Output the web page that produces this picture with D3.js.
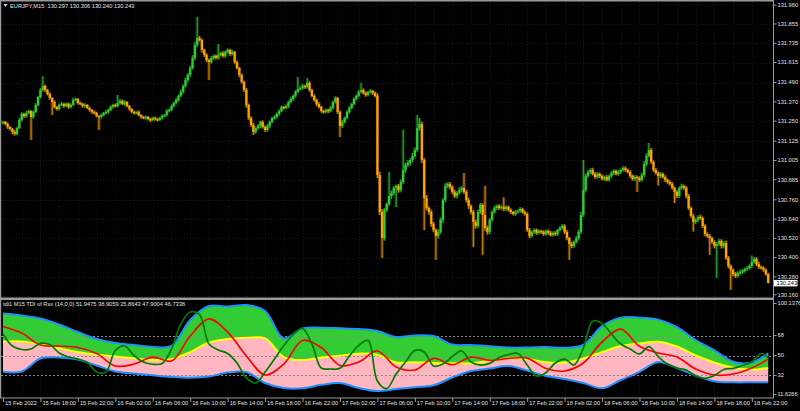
<!DOCTYPE html>
<html><head><meta charset="utf-8">
<script src="https://cdn.jsdelivr.net/npm/d3@7/dist/d3.min.js"></script>
<style>html,body{margin:0;padding:0;background:#000;overflow:hidden}</style>
</head><body>
<svg id="c" width="800" height="411"></svg>
<script>
// ---------------- DATA ----------------
const symbolTitle = "EURJPY,M15  130.297 130.306 130.240 130.243";
const indicatorTitle = "tdi1 M15 TDI of Rsx (14,0,0) 51.9475 38.9059 25.8643 47.9004 46.7338";
const priceBase = 130;          // prices = priceBase + points/1000
const firstOpen = 1240;
// M15 closes, in points above 130.000
const closes = [
1245,1232,1214,1201,1182,1170,1207,1257, 1295,1282,1301,1313,1276,1307,1351,1400,
1444,1469,1444,1419,1394,1369,1338,1326, 1351,1357,1344,1357,1338,1351,1382,1388,
1363,1357,1344,1351,1332,1320,1307,1301, 1282,1276,1288,1301,1307,1320,1338,1351,
1344,1363,1376,1357,1369,1344,1326,1307, 1301,1307,1288,1276,1270,1276,1263,1257,
1270,1263,1257,1270,1282,1288,1313,1320, 1344,1363,1382,1407,1432,1469,1506,1537,
1581,1643,1724,1768,1755,1693,1662,1631, 1618,1643,1656,1643,1662,1674,1656,1681,
1693,1668,1681,1618,1581,1537,1494,1444, 1351,1270,1226,1182,1207,1220,1245,1214,
1195,1220,1245,1270,1276,1295,1313,1338, 1332,1344,1369,1388,1407,1432,1450,1456,
1469,1463,1488,1444,1407,1382,1357,1338, 1313,1307,1320,1313,1332,1369,1394,1307,
1220,1245,1270,1307,1332,1357,1388,1407, 1432,1444,1425,1413,1432,1438,1425,1407,
915,684,522,697,734,784,803,834, 846,821,871,946,977,989,1008,1033,
1070,1207,1232,1008,772,709,684,610, 572,535,560,635,759,846,859,840,
809,784,803,821,834,809,759,722, 684,622,597,684,728,666,585,560,
635,684,709,722,709,716,703,716, 697,684,672,684,691,703,684,672,
572,535,560,572,554,566,560,547, 566,554,541,554,547,572,585,597,
560,522,485,473,498,522,560,666, 821,908,933,946,921,902,921,908,
890,902,884,908,927,940,921,933, 946,958,946,933,908,890,902,896,
884,915,983,1033,1070,996,946,927, 908,921,902,884,871,859,834,809,
784,834,846,834,784,709,659,622, 635,653,647,597,547,535,522,498,
473,485,504,473,491,398,348,324, 298,286,305,311,317,330,336,348,
373,392,361,342,336,324,297,243];
// upper / lower shadow lengths, points
const wickUp = [
8,6,10,5,7,12,9,14, 10,6,12,8,5,9,11,7, 12,61,8,6,10,5,9,7, 8,12,6,10,7,9,14,8,
6,9,7,11,5,8,6,10, 7,5,9,6,12,8,10,7, 9,50,12,8,10,6,7,5, 8,6,10,5,7,9,6,8,
7,9,5,8,10,6,12,9, 10,8,12,9,14,10,16,12, 14,18,20,131,12,10,8,10, 9,12,8,10,69,7,12,9,
10,8,12,6,9,7,10,8, 12,8,10,14,9,11,7,10, 8,12,9,7,10,8,11,9, 7,10,8,12,9,11,75,10,
12,8,31,9,7,10,8,12, 9,7,10,8,12,9,11,8, 10,12,8,9,11,7,10,8, 12,44,9,10,8,11,7,9,
15,20,18,12,10,150,14,12, 10,12,16,250,14,18,12,20, 16,81,38,15,12,18,10,14, 12,10,16,14,12,18,10,12,
10,14,12,16,10,93,12,14, 10,12,14,16,12,10,180,14, 12,10,14,8,12,9,60,10, 8,10,7,12,9,11,8,10,
10,12,8,10,9,11,7,10, 8,10,12,9,11,7,10,12, 10,12,8,14,10,12,15,20, 187,15,12,10,14,12,10,9,
10,8,12,9,11,10,8,12, 9,12,10,8,11,10,12,9, 10,14,18,16,44,12,10,12, 10,12,9,11,8,10,12,9,
12,10,14,9,11,12,10,14, 12,10,14,9,11,10,12,8, 10,12,14,10,12,16,12,10, 9,12,10,14,11,8,12,10,
40,12,10,14,8,10,9,9];
const wickDn = [
10,8,12,9,14,10,8,6, 9,12,10,8,143,10,7,9, 8,10,12,9,11,81,8,10, 9,7,11,8,10,9,7,8,
10,8,9,11,7,10,12,9, 8,81,10,9,8,11,7,10, 9,8,10,7,12,9,11,8, 10,9,7,11,8,10,9,12,
8,10,9,7,11,8,10,9, 8,10,9,11,8,12,10,14, 12,10,14,12,10,16,12,14, 112,10,12,9,11,8,10,12,
10,12,8,11,9,14,10,12, 16,14,12,18,10,12,14,10, 12,10,14,9,11,10,12,8, 10,8,12,9,11,10,8,9,
10,12,9,11,8,10,12,9, 11,9,10,12,8,10,9,12, 69,12,10,9,11,8,10,9, 8,10,9,11,8,10,12,9,
20,18,124,16,14,12,18,14, 120,16,14,12,18,14,16,12, 14,12,16,18,200,14,16,18, 14,149,16,12,18,14,12,16,
14,12,16,10,14,12,16,18, 14,156,16,14,12,249,18,16, 14,12,10,14,12,10,14,12, 10,12,9,11,10,12,8,10,
12,14,10,12,11,9,12,10, 10,12,9,11,10,12,8,10, 12,14,99,14,12,10,14,12, 12,14,10,12,9,11,10,12,
10,12,9,11,10,12,9,10, 12,10,11,9,12,10,14,87, 12,10,14,12,10,14,12,10, 60,12,10,14,11,10,12,69,
14,12,10,12,14,12,10,60, 12,14,10,12,14,12,105,12, 14,200,12,16,14,12,14,125, 14,12,10,14,12,10,12,10,
12,10,14,12,10,12,10,3];

const priceTicks = [131.980,131.855,131.735,131.615,131.490,131.370,131.250,131.125,131.005,
                    130.885,130.760,130.640,130.520,130.400,130.280,130.160];
const bidPrice = 130.243;

const timeLabelBars = [0,16,32,48,64,80,96,112,128,144,160,176,192,208,224,240,256,272,288,304,320];
const timeLabels = ["15 Feb 2022","15 Feb 18:00","15 Feb 22:00","16 Feb 02:00","16 Feb 06:00","16 Feb 10:00",
  "16 Feb 14:00","16 Feb 18:00","16 Feb 22:00","17 Feb 02:00","17 Feb 06:00","17 Feb 10:00","17 Feb 14:00",
  "17 Feb 18:00","17 Feb 22:00","18 Feb 02:00","18 Feb 06:00","18 Feb 10:00","18 Feb 14:00","18 Feb 18:00","18 Feb 22:00"];

// TDI band series, sampled every 8 bars (last = final bar)
const bandBars = [0,8,16,24,32,40,48,56,64,72,80,88,96,104,112,120,128,136,144,152,160,168,176,184,192,200,
  208,216,224,232,240,248,256,264,272,280,288,296,304,312,320,327];
const tdiUpper = [87.9,86.1,83.4,78.0,71.2,64.9,61.3,59.5,57.7,58.6,82.1,94.7,94.3,95.6,90.2,65.4,74.4,75.1,74.6,73.9,
  72.1,66.7,68.1,67.6,59.9,59.5,58.4,57.2,57.2,57.7,57.0,59.5,76.6,84.2,84.2,82.4,75.7,64.0,54.7,44.4,43.7,51.9475];
const tdiMiddle = [62.6,62.6,59.9,56.5,53.1,50.7,49.1,47.5,45.9,46.8,53.1,61.7,64.9,66.0,65.5,48.6,45.9,48.1,49.8,51.7,
  50.5,43.7,44.0,43.2,43.0,43.0,45.2,47.3,46.8,43.9,43.7,47.3,53.1,58.6,60.9,62.4,58.1,50.0,43.7,39.1,37.2,38.9059];
const tdiLower = [35.3,35.6,47.3,48.2,46.4,41.0,35.6,33.8,32.1,30.6,29.9,31.0,34.6,35.1,25.2,20.6,20.4,23.5,25.2,20.6,
  17.9,19.7,21.4,23.1,30.1,36.0,38.3,40.5,36.4,31.5,28.8,25.2,20.4,27.9,35.3,44.1,38.7,31.9,26.8,25.8,25.8,25.8643];
const tdiSignal = [76.2,70.3,59.5,58.6,57.2,51.8,40.5,42.3,48.6,45.0,67.6,83.0,71.2,49.6,32.4,42.3,63.6,57.2,41.0,44.1,
  54.1,39.6,36.9,47.5,41.7,48.6,45.6,47.3,47.7,38.3,36.0,43.2,62.2,73.9,58.3,52.3,48.6,37.8,32.4,33.3,38.7,46.7338];
// RSI price line, sampled every 4 bars (last = final bar)
const rsiBars = [0,4,8,12,16,20,24,28,32,36,40,44,48,52,56,60,64,68,72,76,80,84,88,92,96,100,104,108,112,116,120,
  124,128,132,136,140,144,148,152,156,160,164,168,172,176,180,184,188,192,196,200,204,208,212,216,220,224,228,232,
  236,240,244,248,252,256,260,264,268,272,276,280,284,288,292,296,300,304,308,312,316,320,324,327];
const tdiRsi = [69.4,58.6,55.4,55.9,61.0,59.9,52.3,48.6,46.8,43.7,35.1,35.1,54.5,58.6,50.0,44.1,42.1,42.8,55.9,78.5,
  89.3,86.9,60.4,55.0,51.8,43.2,29.7,25.2,35.1,46.8,59.0,68.9,74.4,60.4,38.7,37.8,38.4,49.5,59.2,63.5,
  27.0,20.2,33.3,44.1,54.5,53.2,40.5,42.3,49.1,54.1,44.1,41.4,42.9,48.2,50.9,51.8,41.4,31.5,34.4,43.2,
  46.8,41.4,56.8,81.2,78.9,69.4,60.4,55.9,51.4,58.1,49.1,42.3,38.7,36.9,31.5,29.4,31.9,37.4,38.4,41.0,
  44.1,51.8,47.9004];
const tdiLevels = [68,50,32];
const tdiTicks = [100.1376,68,50,32,11.6266];

// ---------------- DRAW ----------------
const svg = d3.select('#c');
const FONT = "'Liberation Sans', Arial, sans-serif";
const TXT = "#e2e2e2";
const R = 773; // right edge of plots
svg.append('rect').attr('width',800).attr('height',411).attr('fill','#000');

const x  = d3.scaleLinear().domain([0, closes.length-1]).range([3, 768.2]);
const yP = d3.scaleLinear().domain([130.16, 131.98]).range([296.2, 3.9]);
const yI = d3.scaleLinear().domain([11.6266, 100.1376]).range([398, 300]);
const px = v => priceBase + v/1000;

const defs = svg.append('defs');
defs.append('clipPath').attr('id','cm').append('rect').attr('x',1).attr('y',1.5).attr('width',R-1).attr('height',296);
defs.append('clipPath').attr('id','ci').append('rect').attr('x',1).attr('y',300).attr('width',R-1).attr('height',98);

// grid
const gridBars = d3.range(0, closes.length, 8);
const gm = svg.append('g').attr('clip-path','url(#cm)').attr('stroke','#14141f').attr('stroke-dasharray','1,2').attr('stroke-width',1);
gm.selectAll('line.v').data(gridBars).join('line').attr('class','v')
  .attr('x1',d=>Math.round(x(d))+0.5).attr('x2',d=>Math.round(x(d))+0.5).attr('y1',2).attr('y2',297);
gm.selectAll('line.h').data(priceTicks).join('line').attr('class','h')
  .attr('x1',1).attr('x2',R).attr('y1',d=>Math.round(yP(d))+0.5).attr('y2',d=>Math.round(yP(d))+0.5);
const gi = svg.append('g').attr('clip-path','url(#ci)').attr('stroke','#14141f').attr('stroke-dasharray','1,2');
gi.selectAll('line').data(gridBars).join('line')
  .attr('x1',d=>Math.round(x(d))+0.5).attr('x2',d=>Math.round(x(d))+0.5).attr('y1',300).attr('y2',398);

// candles
const bars = closes.map((c,i)=>{
  const o = i===0 ? firstOpen : closes[i-1];
  return {i, o, c, h: Math.max(o,c)+wickUp[i], l: Math.min(o,c)-wickDn[i]};
});
const UP = '#32cd32', DN = '#ffa500';
const cg = svg.append('g').attr('clip-path','url(#cm)');
// soft halo along each bar's full range (scaled-screenshot look)
cg.selectAll('rect.hl').data(bars).join('rect').attr('class','hl')
  .attr('x',d=>x(d.i)-1.6).attr('width',3.2)
  .attr('y',d=>yP(px(d.h))).attr('height',d=>Math.max(1, yP(px(d.l))-yP(px(d.h))))
  .attr('fill',d=>d.c>=d.o?UP:DN).attr('opacity',0.28);
cg.selectAll('rect.w').data(bars).join('rect').attr('class','w')
  .attr('x',d=>x(d.i)-0.5).attr('width',1)
  .attr('y',d=>yP(px(d.h))).attr('height',d=>Math.max(1, yP(px(d.l))-yP(px(d.h))))
  .attr('fill',d=>d.c>=d.o?UP:DN).attr('opacity',0.8);
cg.selectAll('rect.b').data(bars).join('rect').attr('class','b')
  .attr('x',d=>x(d.i)-1.1).attr('width',2.2)
  .attr('y',d=>yP(px(Math.max(d.o,d.c)))).attr('height',d=>Math.max(1.2, Math.abs(yP(px(d.o))-yP(px(d.c)))))
  .attr('fill',d=>d.c>=d.o?UP:DN);

// TDI
const band = bandBars.map((b,k)=>({b, up:tdiUpper[k], mid:tdiMiddle[k], lo:tdiLower[k], sig:tdiSignal[k]}));
const rsi = rsiBars.map((b,k)=>({b, v:tdiRsi[k]}));
const curve = d3.curveCatmullRom.alpha(0.5);
const ig = svg.append('g').attr('clip-path','url(#ci)');
ig.append('path').datum(band).attr('fill','#32cd32')
  .attr('d', d3.area().curve(curve).x(d=>x(d.b)).y0(d=>yI(d.mid)).y1(d=>yI(d.up)));
ig.append('path').datum(band).attr('fill','#ffb6c1')
  .attr('d', d3.area().curve(curve).x(d=>x(d.b)).y0(d=>yI(d.lo)).y1(d=>yI(d.mid)));
ig.selectAll('line.lv').data(tdiLevels).join('line').attr('class','lv')
  .attr('x1',1).attr('x2',R).attr('y1',d=>Math.round(yI(d))+0.5).attr('y2',d=>Math.round(yI(d))+0.5)
  .attr('stroke','#8a8a8a').attr('stroke-dasharray','2,2').attr('stroke-width',1);
const line = key => d3.line().curve(curve).x(d=>x(d.b)).y(d=>yI(d[key]));
ig.append('path').datum(band).attr('d',line('up')).attr('fill','none').attr('stroke','#1e90ff').attr('stroke-width',2);
ig.append('path').datum(band).attr('d',line('lo')).attr('fill','none').attr('stroke','#1e90ff').attr('stroke-width',2);
ig.append('path').datum(band).attr('d',line('mid')).attr('fill','none').attr('stroke','#ffff00').attr('stroke-width',2);
ig.append('path').datum(band).attr('d',line('sig')).attr('fill','none').attr('stroke','#ff0000').attr('stroke-width',1.7);
ig.append('path').datum(rsi).attr('d',line('v')).attr('fill','none').attr('stroke','#007a00').attr('stroke-width',1.7);

// frame
const fr = svg.append('g').attr('fill','#9a9a9a');
fr.append('rect').attr('x',0).attr('y',0).attr('width',R).attr('height',1.5);
fr.append('rect').attr('x',0).attr('y',0).attr('width',1.2).attr('height',398);
fr.append('rect').attr('x',0).attr('y',297.5).attr('width',R).attr('height',2.5);
fr.append('rect').attr('x',0).attr('y',397.5).attr('width',R).attr('height',1);
fr.append('rect').attr('x',R).attr('y',0).attr('width',1).attr('height',398.5);

// price axis
const pa = svg.append('g').attr('transform',`translate(${R+0.5},0)`)
  .call(d3.axisRight(yP).tickValues(priceTicks).tickFormat(d3.format('.3f')).tickSize(3).tickPadding(1));
pa.select('.domain').remove();
pa.selectAll('.tick').attr('transform',d=>`translate(0,${Math.min(294.8,Math.max(5.2,yP(d)))})`);
pa.selectAll('line').attr('stroke','#9a9a9a');
pa.selectAll('text').attr('fill',TXT).style('font-family',FONT).style('font-size','5.7px');

// bid label
const by = yP(bidPrice);
svg.append('rect').attr('x',R+1).attr('y',by-3).attr('width',23.5).attr('height',6.5).attr('fill','#fff');
svg.append('text').attr('x',R+3.5).attr('y',by+2).text(d3.format('.3f')(bidPrice))
  .attr('fill','#000').style('font-family',FONT).style('font-size','5.7px');

// indicator axis
const ia = svg.append('g').attr('transform',`translate(${R+0.5},0)`)
  .call(d3.axisRight(yI).tickValues(tdiTicks).tickFormat(d=>Number.isInteger(d)?String(d):d.toFixed(4)).tickSize(3).tickPadding(1));
ia.select('.domain').remove();
ia.selectAll('.tick').attr('transform',d=>`translate(0,${Math.min(394.5,Math.max(303.5,yI(d)))})`);
ia.selectAll('line').attr('stroke','#9a9a9a');
ia.selectAll('text').attr('fill',TXT).style('font-family',FONT).style('font-size','5.7px');

// time axis
const ta = svg.append('g').attr('transform','translate(0,398)')
  .call(d3.axisBottom(x).tickValues(timeLabelBars).tickFormat((d,k)=>timeLabels[k]).tickSize(4).tickPadding(0));
ta.select('.domain').remove();
ta.selectAll('line').attr('stroke','#9a9a9a');
ta.selectAll('text').attr('fill',TXT).attr('text-anchor','start').attr('x',1.5).attr('y',3.2)
  .style('font-family',FONT).style('font-size','5.7px');

// titles
svg.append('path').attr('d','M3.5,4 L7.5,4 L5.5,6.8 Z').attr('fill','#e0e0e0');
svg.append('text').attr('x',10).attr('y',8).text(symbolTitle).attr('fill',TXT)
  .style('font-family',FONT).style('font-size','5.7px').attr('xml:space','preserve');
svg.append('text').attr('x',3).attr('y',305.7).text(indicatorTitle).attr('fill',TXT)
  .style('font-family',FONT).style('font-size','5.7px');
</script>
</body></html>
